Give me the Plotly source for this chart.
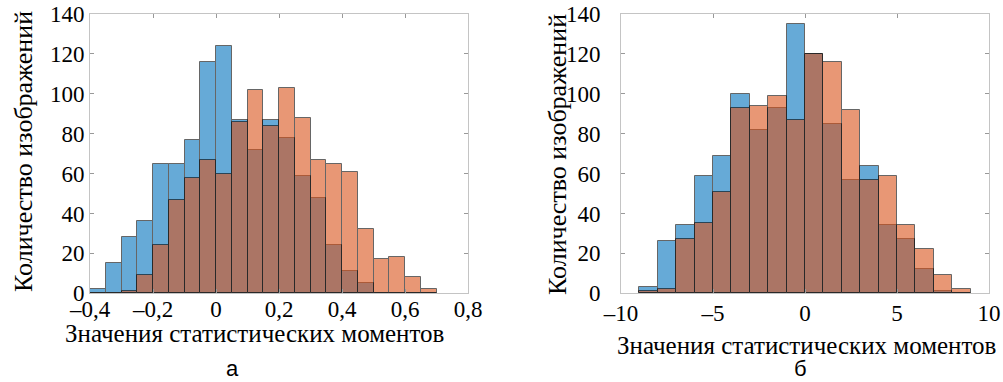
import plotly.graph_objects as go

# ---------------- data ----------------
# chart "а": bins of width 0.05 starting at the listed lower edges
a_bin_start = [-0.40, -0.35, -0.30, -0.25, -0.20, -0.15, -0.10, -0.05, 0.00, 0.05, 0.10,
               0.15, 0.20, 0.25, 0.30, 0.35, 0.40, 0.45, 0.50, 0.55, 0.60, 0.65]
a_bin_width = 0.05
a_blue = [2, 15, 28, 36, 65, 65, 77, 116, 124, 87, 72, 87, 78, 59, 48, 24, 11, 5, 0, 0, 0, 0]
a_orange = [0, 0, 1, 9, 24, 47, 58, 67, 60, 86, 102, 84, 103, 88, 67, 65, 61, 32, 17, 18, 8, 2]
a_xticks = [-0.4, -0.2, 0, 0.2, 0.4, 0.6, 0.8]
a_xticklabels = ["–0,4", "–0,2", "0", "0,2", "0,4", "0,6", "0,8"]

# chart "б": bins of width 1 starting at the listed lower edges
b_bin_start = [-9, -8, -7, -6, -5, -4, -3, -2, -1, 0, 1, 2, 3, 4, 5, 6, 7, 8]
b_bin_width = 1
b_blue = [3, 26, 34, 59, 69, 100, 82, 93, 135, 120, 85, 57, 64, 34, 27, 12, 1, 0]
b_orange = [1, 2, 27, 35, 51, 93, 94, 99, 87, 120, 116, 92, 57, 59, 34, 22, 9, 2]
b_xticks = [-10, -5, 0, 5, 10]
b_xticklabels = ["–10", "–5", "0", "5", "10"]

yticks = [0, 20, 40, 60, 80, 100, 120, 140]
ylabel = "Количество изображений"
xlabel = "Значения статистических моментов"
panel_labels = ["а", "б"]

# ---------------- style ----------------
W, H = 1003, 382
BLUE = "#0072BD"
ORANGE = "#D95319"
SERIF = "Liberation Serif"
SANS = "Liberation Sans"
FRAME = "#c4c4c4"

def px_x(p):
    return p / W

def px_y(p):
    return 1 - p / H

fig = go.Figure()

def add_hist(starts, width, counts, color, xa, ya):
    fig.add_trace(go.Bar(
        x=[s + width / 2 for s in starts], y=counts, width=width,
        marker=dict(color=color, line=dict(color="black", width=1)),
        opacity=0.6, xaxis=xa, yaxis=ya, showlegend=False, hoverinfo="skip",
    ))

add_hist(a_bin_start, a_bin_width, a_blue, BLUE, "x", "y")
add_hist(a_bin_start, a_bin_width, a_orange, ORANGE, "x", "y")
add_hist(b_bin_start, b_bin_width, b_blue, BLUE, "x2", "y2")
add_hist(b_bin_start, b_bin_width, b_orange, ORANGE, "x2", "y2")

ydom = [px_y(293.3), px_y(14)]
axis_common = dict(showgrid=False, zeroline=False, showline=True, linecolor=FRAME,
                   linewidth=1, mirror="allticks", ticks="inside", ticklen=4,
                   tickcolor="#999999", automargin=False,
                   tickfont=dict(family=SERIF, size=23, color="black"))

fig.update_layout(
    template="none",
    font=dict(family=SERIF, size=23, color="black"),
    width=W, height=H, margin=dict(l=0, r=0, t=0, b=0, pad=0),
    paper_bgcolor="white", plot_bgcolor="white", barmode="overlay", bargap=0,
    xaxis=dict(domain=[px_x(90), px_x(468)], range=[-0.4, 0.8], tickvals=a_xticks,
               ticktext=a_xticklabels, anchor="y", ticklabelstandoff=-5, **axis_common),
    yaxis=dict(domain=ydom, range=[0, 140], tickvals=yticks, anchor="x",
               ticklabelstandoff=0, **axis_common),
    xaxis2=dict(domain=[px_x(621), px_x(989)], range=[-10, 10], tickvals=b_xticks,
                ticktext=b_xticklabels, anchor="y2", ticklabelstandoff=-1, **axis_common),
    yaxis2=dict(domain=ydom, range=[0, 140], tickvals=yticks, anchor="x2",
                ticklabelstandoff=15, **axis_common),
)

ann = []
ann.append(dict(text=ylabel, x=px_x(23), y=px_y(152), textangle=-90,
                font=dict(family=SERIF, size=26, color="black")))
ann.append(dict(text=ylabel, x=px_x(557), y=px_y(155), textangle=-90,
                font=dict(family=SERIF, size=26, color="black")))
ann.append(dict(text=xlabel, x=px_x(254), y=px_y(333),
                font=dict(family=SERIF, size=25, color="black")))
ann.append(dict(text=xlabel, x=px_x(806), y=px_y(345),
                font=dict(family=SERIF, size=25, color="black")))
ann.append(dict(text=panel_labels[0], x=px_x(232), y=px_y(368),
                font=dict(family=SANS, size=22, color="black")))
ann.append(dict(text=panel_labels[1], x=px_x(800), y=px_y(368),
                font=dict(family=SANS, size=22, color="black")))
for a in ann:
    a.update(xref="paper", yref="paper", showarrow=False, xanchor="center", yanchor="middle")
fig.update_layout(annotations=ann)

fig.write_html("out.html", config={"displayModeBar": False},
               post_script="document.body.style.margin='0';")
